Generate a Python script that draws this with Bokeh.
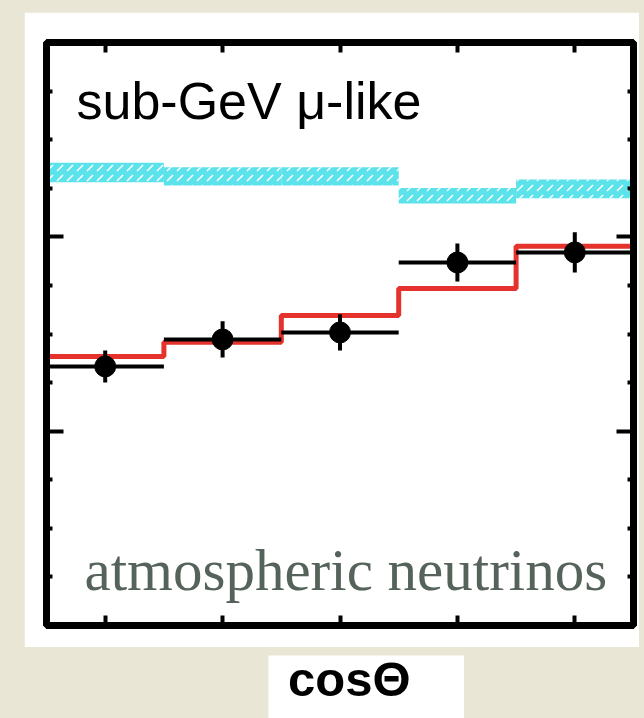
from bokeh.plotting import figure
from bokeh.layouts import column, row
from bokeh.models import (Range1d, LinearAxis, FixedTicker, CustomJSTickFormatter,
                          Label)
from bokeh.core.properties import value
from bokeh.embed import file_html
from bokeh.resources import INLINE

# ---- data (arbitrary y units) ----
bin_edges = [-1.0, -0.6, -0.2, 0.2, 0.6, 1.0]
bin_centers = [-0.8, -0.4, 0.0, 0.4, 0.8]
data_counts = [1.333, 1.472, 1.508, 1.868, 1.920]
data_errors = [0.082, 0.093, 0.093, 0.098, 0.103]
mc_oscillated = [1.384, 1.457, 1.595, 1.734, 1.951]
mc_no_osc = [2.331, 2.311, 2.311, 2.211, 2.247]
mc_no_osc_err = [0.050, 0.047, 0.047, 0.040, 0.048]
x_ticks = [-0.8, -0.4, 0.0, 0.4, 0.8]
y_major_ticks = [0, 1, 2, 3]
y_minor_ticks = [0.25, 0.5, 0.75, 1.25, 1.5, 1.75, 2.25, 2.5, 2.75]
x_title = "cosΘ"

BG = "#EAE6D5"
CYAN = "#5CE2EA"
RED = "#E5322D"

p = figure(width=615, height=635,
           x_range=Range1d(-1, 1), y_range=Range1d(0, 3),
           output_backend="svg", toolbar_location=None,
           min_border_left=22, min_border_right=6,
           min_border_top=30, min_border_bottom=22,
           background_fill_color="white", border_fill_color="white",
           outline_line_color="black", outline_line_width=7)
p.margin = (12, 0, 0, 24)
p.xgrid.visible = False
p.ygrid.visible = False

empty = CustomJSTickFormatter(code="return ''")


def style_axis(ax, ticker, major_len, minor_len):
    ax.ticker = ticker
    ax.formatter = empty
    ax.axis_line_color = "black"
    ax.axis_line_width = 7
    ax.major_tick_in = major_len
    ax.major_tick_out = 0
    ax.minor_tick_in = minor_len
    ax.minor_tick_out = 0
    ax.major_tick_line_width = 4
    ax.minor_tick_line_width = 4
    ax.major_tick_line_color = "black"
    ax.minor_tick_line_color = "black"
    ax.major_label_standoff = 0


xt = FixedTicker(ticks=x_ticks, minor_ticks=[])
yt = FixedTicker(ticks=y_major_ticks, minor_ticks=y_minor_ticks)

style_axis(p.xaxis[0], xt, 10, 0)
style_axis(p.yaxis[0], yt, 17, 6)
top_axis = LinearAxis()
style_axis(top_axis, xt, 10, 0)
p.add_layout(top_axis, "above")
right_axis = LinearAxis()
style_axis(right_axis, yt, 17, 6)
p.add_layout(right_axis, "right")

# no-oscillation expectation band (hatched cyan)
p.quad(left=bin_edges[:-1], right=bin_edges[1:],
       bottom=[v - e for v, e in zip(mc_no_osc, mc_no_osc_err)],
       top=[v + e for v, e in zip(mc_no_osc, mc_no_osc_err)],
       fill_color=CYAN, line_color=None,
       hatch_pattern="right_diagonal_dash", hatch_color="white",
       hatch_scale=10, hatch_weight=1.5)

# oscillated expectation (red step)
p.step(x=bin_edges, y=mc_oscillated + [mc_oscillated[-1]], mode="after",
       line_color=RED, line_width=5)

# data
p.segment(x0=bin_edges[:-1], x1=bin_edges[1:], y0=data_counts, y1=data_counts,
          line_color="black", line_width=4)
p.segment(x0=bin_centers, x1=bin_centers,
          y0=[v - e for v, e in zip(data_counts, data_errors)],
          y1=[v + e for v, e in zip(data_counts, data_errors)],
          line_color="black", line_width=4)
p.scatter(x=bin_centers, y=data_counts, size=21, marker="circle",
          fill_color="black", line_color="black")

# texts inside the frame
p.add_layout(Label(x=30, y=525, x_units="screen", y_units="screen",
                   text="sub-GeV μ-like", text_font="Liberation Sans",
                   text_font_size="52px", text_color="black",
                   text_baseline="alphabetic"))
p.add_layout(Label(x=38, y=56, x_units="screen", y_units="screen",
                   text="atmospheric neutrinos", text_font="Liberation Serif",
                   text_font_size="59px", text_color="#56635A",
                   text_baseline="alphabetic"))

# x-axis title box below the panel
q = figure(width=196, height=63,
           x_range=Range1d(0, 1), y_range=Range1d(0, 1),
           output_backend="svg", toolbar_location=None,
           x_axis_location=None, y_axis_location=None,
           min_border=0, background_fill_color="white",
           border_fill_color="white", outline_line_color=None)
q.grid.visible = False
q.text(x=[0.1], y=[0.62], text=[x_title], text_font=value("Liberation Sans"),
       text_font_size="49px", text_font_style="bold", text_color="black",
       text_baseline="alphabetic", text_align="left")
q_row = row(q, width=644, height=71, styles={"padding-left": "268px",
                                             "padding-top": "8px"})

page = column(p, q_row, width=644, height=718, spacing=0,
              styles={"background-color": BG})

open("out.html", "w").write(file_html(page, INLINE))
